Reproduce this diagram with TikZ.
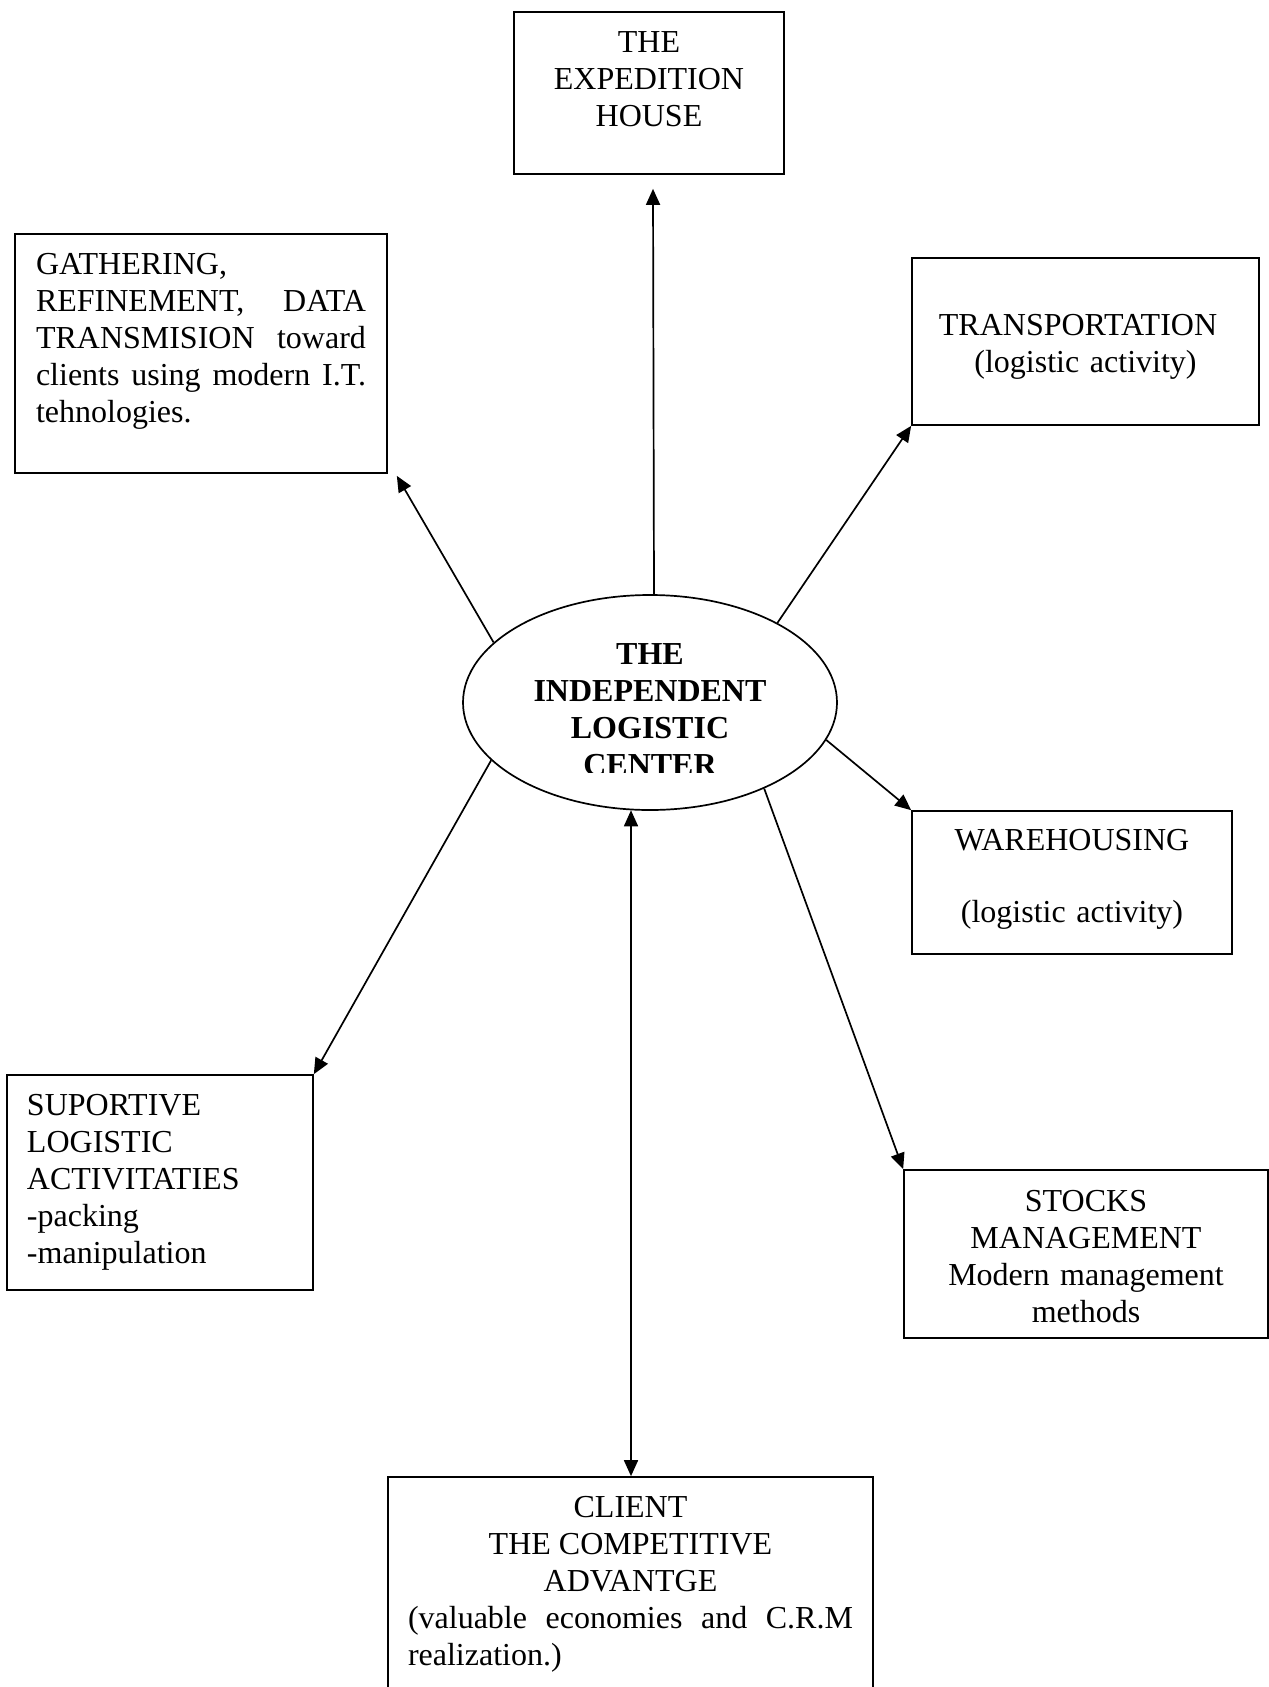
\documentclass[tikz,border=0pt]{standalone}
\usepackage{fontspec}
\setmainfont{Liberation Serif}
\setlength{\parindent}{0pt}
\usetikzlibrary{arrows.meta,positioning,shapes.geometric}

\begin{document}
\begin{tikzpicture}[x=1pt, y=-1pt,
  box/.style={draw, line width=1.7pt, inner sep=0pt},
  txt/.style={font=\fontsize{32}{37}\selectfont, inner sep=0pt},
  link/.style={line width=1.7pt, -{Triangle[length=16pt, width=14pt]}},
  both/.style={line width=1.7pt, {Triangle[length=16pt, width=14pt]}-{Triangle[length=16pt, width=14pt]}}]
  \useasboundingbox (0,0) rectangle (1269,1687);

  % centre of the diagram
  \node[ellipse, draw, line width=1.7pt, minimum width=374pt, minimum height=215pt] (ilc) at (650,702.5) {};
  \begin{scope}
    \clip (450,600) rectangle (850,772);
    \node[txt, font=\fontsize{32}{37}\selectfont\bfseries, align=center, anchor=north] (ilctxt) at (650,643)
      {THE\\INDEPENDENT\\LOGISTIC\\CENTER};
  \end{scope}

  % boxes around it
  \node[box, minimum width=270pt, minimum height=162pt] (exp) at (649,93) {};
  \node[txt, text width=230pt, align=center, below=20pt of exp.north] (exptxt)
    {THE\\EXPEDITION\\HOUSE};

  \node[box, minimum width=372pt, minimum height=239pt] (gath) at (201,353.5) {};
  \node[txt, text width=330pt, align=justify, below=20pt of gath.north] (gathtxt)
    {GATHERING,\\REFINEMENT, DATA\linebreak TRANSMISION toward\linebreak clients using modern I.T.\linebreak tehnologies.};

  \node[box, minimum width=347pt, minimum height=167pt] (trans) at (1085.5,341.5) {};
  \node[txt, text width=307pt, align=center, below=57pt of trans.north] (transtxt)
    {TRANSPORTATION\hspace{15pt}\mbox{}\\(logistic activity)};

  \node[box, minimum width=320pt, minimum height=143pt] (ware) at (1072,882.5) {};
  \node[txt, text width=280pt, align=center, below=19pt of ware.north] (waretxt)
    {WAREHOUSING\\[35pt](logistic activity)};

  \node[box, minimum width=306pt, minimum height=215pt] (supp) at (160,1182.5) {};
  \node[txt, text width=266pt, align=left, below=20pt of supp.north] (supptxt)
    {SUPORTIVE\\LOGISTIC\\ACTIVITATIES\\-packing\\-manipulation};

  \node[box, minimum width=364pt, minimum height=168pt] (stocks) at (1086,1254) {};
  \node[txt, text width=324pt, align=center, below=21pt of stocks.north] (stockstxt)
    {STOCKS\\MANAGEMENT\\Modern management\\methods};

  \node[box, minimum width=485pt, minimum height=223pt] (client) at (630.5,1588.5) {};
  \node[txt, text width=445pt, align=justify, below=20pt of client.north] (clienttxt)
    {{\centering CLIENT\\THE COMPETITIVE\\ADVANTGE\par}
     (valuable economies and C.R.M\linebreak realization.)};

  % links
  \draw[link] ([xshift=4pt]ilc.north) -- ([shift={(4,14)}]exp.south);
  \draw[link] (ilc.159) -- ([shift={(9,2)}]gath.south east);
  \draw[link] (ilc.32) -- (trans.south west);
  \draw[link] (ilc.-12) -- (ware.north west);
  \draw[link] (ilc.-37.5) -- (stocks.north west);
  \draw[link] (ilc.200) -- (supp.north east);
  \draw[both] (ilc.260) -- (ilc.260 |- client.north);
\end{tikzpicture}
\end{document}
